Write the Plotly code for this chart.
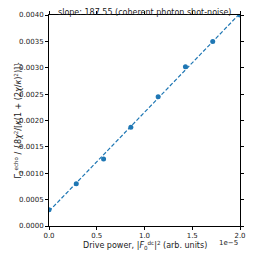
import plotly.graph_objects as go

drive_power = [0.0, 0.2857e-5, 0.5714e-5, 0.8571e-5, 1.1429e-5, 1.4286e-5, 1.7143e-5, 2.0e-5]
gamma_norm = [0.00031, 0.00080, 0.00127, 0.00187, 0.00245, 0.00302, 0.00350, 0.00400]
slope = 187.55
intercept = 0.00028
fit_x = [0.0, 2.0e-5]
fit_y = [intercept + slope * v for v in fit_x]

x_ticks = [0.0, 0.5e-5, 1.0e-5, 1.5e-5, 2.0e-5]
x_tick_text = ["0.0", "0.5", "1.0", "1.5", "2.0"]
y_ticks = [0.0, 0.0005, 0.001, 0.0015, 0.002, 0.0025, 0.003, 0.0035, 0.004]
y_tick_text = ["0.0000", "0.0005", "0.0010", "0.0015", "0.0020", "0.0025", "0.0030", "0.0035", "0.0040"]

blue = "#1f77b4"
txt = "#222"
fig = go.Figure()
fig.add_trace(go.Scatter(x=drive_power, y=gamma_norm, mode="markers",
                         marker=dict(color=blue, size=5), cliponaxis=True, showlegend=False))
fig.add_trace(go.Scatter(x=fit_x, y=fit_y, mode="lines", cliponaxis=True,
                         line=dict(color=blue, width=1.2, dash="4px,2px"), showlegend=False))

axis_common = dict(showline=True, linecolor="black", linewidth=1, mirror="ticks",
                   ticks="outside", ticklen=3, tickcolor="black", showgrid=False,
                   zeroline=False, automargin=False, tickfont=dict(size=7, color=txt))
fig.update_xaxes(range=[0, 2.0e-5], tickvals=x_ticks, ticktext=x_tick_text, **axis_common)
fig.update_yaxes(range=[0, 0.004], tickvals=y_ticks, ticktext=y_tick_text, **axis_common)

fig.add_annotation(text="Drive power, |<i>F</i><sub>0</sub><sup>dc</sup>|<sup>2</sup> (arb. units)",
                   xref="paper", yref="paper", x=0.5, y=0, yshift=-19, xanchor="center",
                   yanchor="middle", showarrow=False, font=dict(size=8, color=txt))
fig.add_annotation(text="Γ<sub>2</sub><sup>echo</sup> / {8<i>χ</i><sup>2</sup>/[<i>κ</i>(1 + (2<i>χ</i>/<i>κ</i>)<sup>2</sup>)]}",
                   xref="paper", yref="paper", x=0, xshift=-31, y=0.5, textangle=-90,
                   xanchor="center", yanchor="middle", showarrow=False, font=dict(size=8, color=txt))
fig.add_annotation(text="1e−5", xref="paper", yref="paper", x=1.0, y=0, yshift=-17,
                   xanchor="right", yanchor="middle", showarrow=False, font=dict(size=7, color=txt))
fig.add_annotation(text="slope: 187.55 (coherent photon shot-noise)", xref="paper", yref="paper",
                   x=0.5, y=1, yshift=3, xanchor="center", yanchor="middle", showarrow=False,
                   font=dict(size=8, color=txt))
fig.update_layout(width=247, height=247, margin=dict(l=41, r=15, t=7, b=29, autoexpand=False),
                  paper_bgcolor="white", plot_bgcolor="white",
                  font=dict(family="DejaVu Sans"))
fig.write_html("out.html")
